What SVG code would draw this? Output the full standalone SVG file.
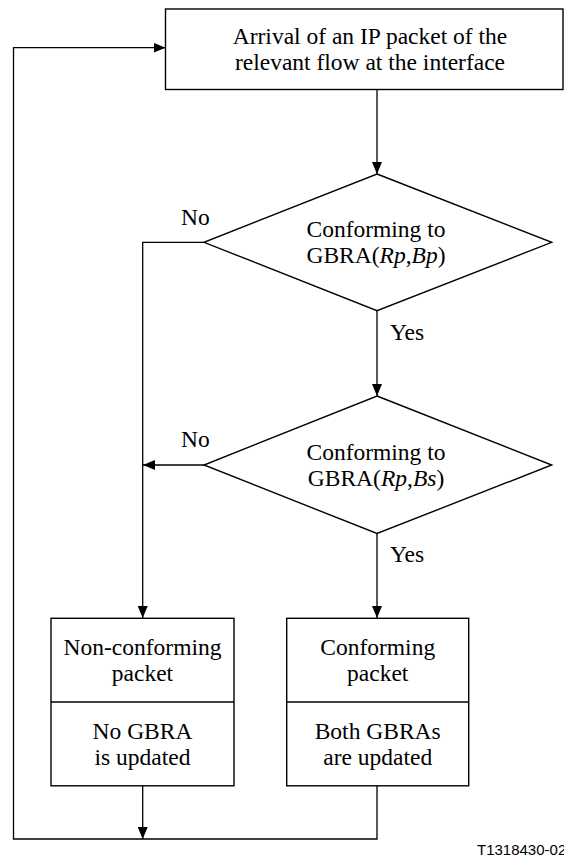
<svg xmlns="http://www.w3.org/2000/svg" width="564" height="856" viewBox="0 0 564 856">
<style>
.box{fill:#fff;stroke:#000;stroke-width:1.4}
.ln{fill:none;stroke:#000;stroke-width:1.3}
.t{font-family:'Liberation Serif','Times New Roman','DejaVu Serif',serif;font-size:23.5px;fill:#000;text-anchor:middle}
.l{font-family:'Liberation Serif','Times New Roman','DejaVu Serif',serif;font-size:23.5px;fill:#000}
.id{font-family:'Liberation Sans',Arial,sans-serif;font-size:15px;fill:#000}
</style>
<defs>
<marker id="ah" viewBox="0 0 12 10" refX="12" refY="5" markerWidth="12" markerHeight="10" markerUnits="userSpaceOnUse" orient="auto">
<path d="M0,0 L12,5 L0,10 Z" fill="#000"/>
</marker>
</defs>
<rect width="564" height="856" fill="#fff"/>
<g id="connectors">
<path class="ln" d="M377,89.5 V174" marker-end="url(#ah)"/>
<path class="ln" d="M204,242.3 H142.7 V618" marker-end="url(#ah)"/>
<path class="ln" d="M377,310.7 V396" marker-end="url(#ah)"/>
<path class="ln" d="M204,465 H143" marker-end="url(#ah)"/>
<path class="ln" d="M377,533.5 V618" marker-end="url(#ah)"/>
<path class="ln" d="M142.7,786 V839" marker-end="url(#ah)"/>
<path class="ln" d="M377,786 V839 H13.5 V47.7 H165.5" marker-end="url(#ah)"/>
<text class="l" x="181" y="225" font-family="Liberation Serif, serif">No</text>
<text class="l" x="390" y="340" font-family="Liberation Serif, serif">Yes</text>
<text class="l" x="181" y="447" font-family="Liberation Serif, serif">No</text>
<text class="l" x="390" y="562" font-family="Liberation Serif, serif">Yes</text>
</g>
<g id="start">
<rect class="box" x="165.5" y="9" width="397.5" height="80.5"/>
<text class="t" x="370" y="43.5">Arrival of an IP packet of the</text>
<text class="t" x="370" y="69.5">relevant flow at the interface</text>
</g>
<g id="decision1">
<polygon class="box" points="377,174 551.7,242.3 377,310.7 204,242.3"/>
<text class="t" x="376" y="237">Conforming to</text>
<text class="t" x="376" y="263">GBRA(<tspan font-style="italic">Rp</tspan>,<tspan font-style="italic">Bp</tspan>)</text>
</g>
<g id="decision2">
<polygon class="box" points="377,396 551.7,465 377,533.5 204,465"/>
<text class="t" x="376" y="459.5">Conforming to</text>
<text class="t" x="376" y="485.5">GBRA(<tspan font-style="italic">Rp</tspan>,<tspan font-style="italic">Bs</tspan>)</text>
</g>
<g id="nonconforming">
<rect class="box" x="51" y="618.3" width="183" height="167.5"/>
<line class="ln" x1="51" y1="702" x2="234" y2="702"/>
<text class="t" x="142.5" y="654.6">Non-conforming</text>
<text class="t" x="142.5" y="680.6">packet</text>
<text class="t" x="142.5" y="738.6">No GBRA</text>
<text class="t" x="142.5" y="764.6">is updated</text>
</g>
<g id="conforming">
<rect class="box" x="286.7" y="618.3" width="182" height="167.5"/>
<line class="ln" x1="286.7" y1="702" x2="468.7" y2="702"/>
<text class="t" x="377.7" y="654.6">Conforming</text>
<text class="t" x="377.7" y="680.6">packet</text>
<text class="t" x="377.7" y="738.6">Both GBRAs</text>
<text class="t" x="377.7" y="764.6">are updated</text>
</g>
<text class="id" x="477" y="855">T1318430-02</text>
</svg>
